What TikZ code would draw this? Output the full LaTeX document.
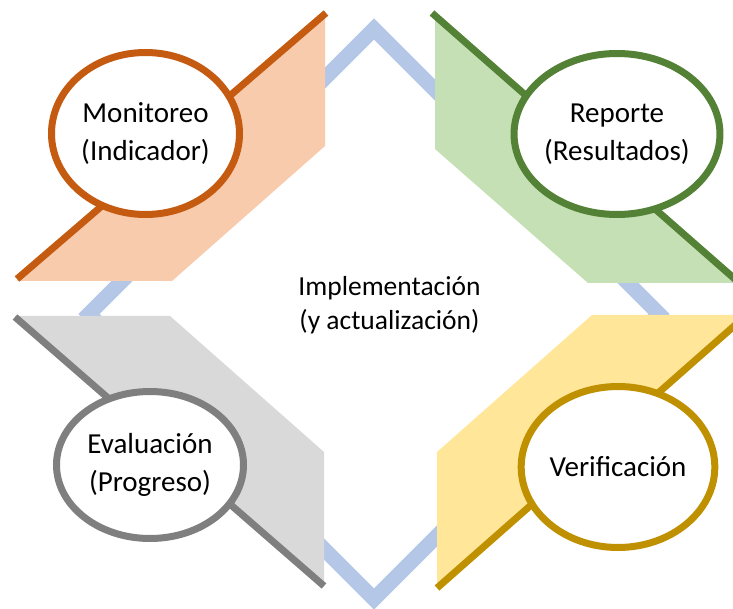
\documentclass[tikz,border=0pt]{standalone}
\usepackage{fontspec}
\setmainfont{Carlito}
\usetikzlibrary{shapes.geometric}

\definecolor{cycleblue}{HTML}{B4C7E7}
\definecolor{monline}{HTML}{C55A11}
\definecolor{monfill}{HTML}{F8CBAD}
\definecolor{repline}{HTML}{538135}
\definecolor{repfill}{HTML}{C5E0B4}
\definecolor{evaline}{HTML}{7F7F7F}
\definecolor{evafill}{HTML}{D9D9D9}
\definecolor{verline}{HTML}{BF9000}
\definecolor{verfill}{HTML}{FFE699}

\begin{document}
\begin{tikzpicture}[
	x=1pt, y=-1pt,
	every node/.style={font=\fontsize{27.5}{34}\selectfont, align=center, inner sep=0pt},
	stage/.style={ellipse, fill=white, line width=7pt, font=\fontsize{29}{38}\selectfont},
	band/.style={line width=7pt},
]
\clip (0,0) rectangle (733,609);

% implementation cycle
\draw[cycleblue, line width=15pt] (374,29) -- (659,314) -- (374,599) -- (89,314) -- cycle;

% bands
\fill[monfill] (17,281) -- (172,281) -- (325,146) -- (325,14) -- cycle;
\draw[band, monline] (17,279) -- (326,13);
\fill[repfill] (435,15) -- (435,149) -- (588,283) -- (745,283) -- cycle;
\draw[band, repline] (432,13) -- (745,288);
\fill[evafill] (15,316) -- (170,316) -- (324,452) -- (324,586) -- cycle;
\draw[band, evaline] (15,317) -- (324,586);
\fill[verfill] (437,452) -- (592,315) -- (750,315) -- (437,588) -- cycle;
\draw[band, verline] (437,588) -- (750,312);

% stages
\node[stage, draw=monline, minimum width=188pt, minimum height=162pt] (monitoreo) at (145.5,133.5) {Monitoreo\\(Indicador)};
\node[stage, draw=repline, minimum width=183pt, minimum height=161pt] (reporte) at (617,134) {Reporte\\(Resultados)};
\node[stage, draw=evaline, minimum width=187pt, minimum height=147pt] (evaluacion) at (150,465) {Evaluación\\(Progreso)};
\node[stage, draw=verline, minimum width=191pt, minimum height=161pt] (verificacion) at (618,467) {Verificación};

\node (implementacion) at (389.5,305) {Implementación\\(y actualización)};
\end{tikzpicture}
\end{document}
